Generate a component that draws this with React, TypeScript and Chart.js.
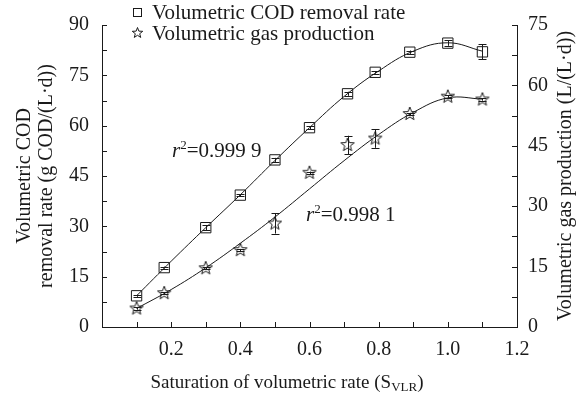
import React, { useEffect, useRef } from 'react';
import { Chart, registerables } from 'chart.js';
Chart.register(...registerables);

// ---- data ----
const xValues = [0.1, 0.18, 0.3, 0.4, 0.5, 0.6, 0.71, 0.79, 0.89, 1.0, 1.1];
const codRate = [9.3, 17.7, 29.6, 39.3, 49.8, 59.4, 69.5, 75.9, 81.9, 84.6, 82.0];
const codErr = [0.3, 0.3, 0.7, 0.3, 0.6, 0.5, 0.6, 0.4, 0.5, 0.8, 2.2];
const gasRate = [4.6, 8.4, 14.6, 19.1, 25.7, 38.3, 45.2, 46.8, 52.9, 57.2, 56.5];
const gasErr = [0.3, 0.3, 0.3, 0.3, 2.5, 0.3, 2.3, 2.3, 0.3, 0.3, 0.3];

const fitX = [0.1, 0.2, 0.3, 0.4, 0.5, 0.6, 0.7, 0.8, 0.9, 1.0, 1.1];
const codFit = [9.3, 19.6, 29.6, 39.4, 49.6, 59.4, 68.7, 76.3, 82.2, 84.7, 82.2];
const gasFit = [4.6, 9.3, 14.7, 20.8, 27.3, 34.3, 41.3, 47.8, 53.3, 56.9, 56.6];

const xTickLabels = ['0.2', '0.4', '0.6', '0.8', '1.0', '1.2'];
const legendLabels = ['Volumetric COD removal rate', 'Volumetric gas production'];
const fitLabels = ['0.999 9', '0.998 1'];

const FONT = "'Liberation Serif', 'Times New Roman', serif";
const INK = '#1a1a1a';

function makeStar(size: number) {
  const c = document.createElement('canvas');
  c.width = size;
  c.height = size;
  const ctx = c.getContext('2d')!;
  drawStar(ctx, size / 2, size / 2, size / 2 - 1);
  return c;
}

function drawStar(ctx: CanvasRenderingContext2D, cx: number, cy: number, R: number) {
  const r = R * 0.42;
  ctx.beginPath();
  for (let i = 0; i < 10; i++) {
    const a = -Math.PI / 2 + (i * Math.PI) / 5;
    const rad = i % 2 === 0 ? R : r;
    const px = cx + rad * Math.cos(a);
    const py = cy + rad * Math.sin(a);
    if (i === 0) ctx.moveTo(px, py);
    else ctx.lineTo(px, py);
  }
  ctx.closePath();
  ctx.fillStyle = '#fff';
  ctx.fill();
  ctx.strokeStyle = INK;
  ctx.lineWidth = 1;
  ctx.stroke();
}

function drawR2(ctx: CanvasRenderingContext2D, x: number, y: number, val: string) {
  ctx.textBaseline = 'alphabetic';
  ctx.textAlign = 'left';
  ctx.font = `italic 21px ${FONT}`;
  ctx.fillText('r', x, y);
  let w = ctx.measureText('r').width;
  ctx.font = `13px ${FONT}`;
  ctx.fillText('2', x + w, y - 8);
  w += ctx.measureText('2').width;
  ctx.font = `21px ${FONT}`;
  ctx.fillText('=' + val, x + w, y);
}

const customPlugin = {
  id: 'custom',
  afterDatasetsDraw(chart: any) {
    const ctx: CanvasRenderingContext2D = chart.ctx;
    const xs = chart.scales.x;
    const yl = chart.scales.y;
    const yr = chart.scales.y1;
    ctx.save();
    ctx.strokeStyle = INK;
    ctx.lineWidth = 1;
    const bars = (vals: number[], errs: number[], sc: any) => {
      vals.forEach((v, i) => {
        const px = Math.round(xs.getPixelForValue(xValues[i])) + 0.5;
        const top = sc.getPixelForValue(v + errs[i]);
        const bot = sc.getPixelForValue(v - errs[i]);
        ctx.beginPath();
        ctx.moveTo(px, top);
        ctx.lineTo(px, bot);
        ctx.moveTo(px - 4, Math.round(top) + 0.5);
        ctx.lineTo(px + 4, Math.round(top) + 0.5);
        ctx.moveTo(px - 4, Math.round(bot) + 0.5);
        ctx.lineTo(px + 4, Math.round(bot) + 0.5);
        ctx.stroke();
      });
    };
    bars(codRate, codErr, yl);
    bars(gasRate, gasErr, yr);
    ctx.restore();
  },
  afterDraw(chart: any) {
    const ctx: CanvasRenderingContext2D = chart.ctx;
    const xs = chart.scales.x;
    const yl = chart.scales.y;
    const yr = chart.scales.y1;
    const ca = chart.chartArea;
    ctx.save();
    ctx.strokeStyle = INK;
    ctx.lineWidth = 1;
    const TL = 5;
    for (let v = 0.1; v < 1.2 - 1e-6; v += 0.1) {
      const px = Math.round(xs.getPixelForValue(v)) + 0.5;
      ctx.beginPath();
      ctx.moveTo(px, ca.bottom);
      ctx.lineTo(px, ca.bottom - TL);
      ctx.stroke();
    }
    for (let v = 7.5; v <= 90 + 1e-6; v += 7.5) {
      const py = Math.round(yl.getPixelForValue(v)) + 0.5;
      ctx.beginPath();
      ctx.moveTo(ca.left, py);
      ctx.lineTo(ca.left + TL, py);
      ctx.stroke();
    }
    for (let v = 7.5; v <= 75 + 1e-6; v += 7.5) {
      const py = Math.round(yr.getPixelForValue(v)) + 0.5;
      ctx.beginPath();
      ctx.moveTo(ca.right, py);
      ctx.lineTo(ca.right - TL, py);
      ctx.stroke();
    }

    // legend
    ctx.font = `21px ${FONT}`;
    ctx.textBaseline = 'middle';
    ctx.textAlign = 'left';
    ctx.fillStyle = '#fff';
    ctx.fillRect(133.5, 8.5, 8, 8);
    ctx.strokeRect(133.5, 8.5, 8, 8);
    drawStar(ctx, 137.5, 33, 5.5);
    ctx.fillStyle = INK;
    ctx.fillText(legendLabels[0], 152, 13);
    ctx.fillText(legendLabels[1], 152, 34);

    drawR2(ctx, 172, 157, fitLabels[0]);
    drawR2(ctx, 306, 221, fitLabels[1]);

    // left title (two lines, rotated)
    ctx.font = `20px ${FONT}`;
    ctx.textAlign = 'center';
    ctx.textBaseline = 'middle';
    ctx.save();
    ctx.translate(25, 176);
    ctx.rotate(-Math.PI / 2);
    ctx.fillText('Volumetric COD', 0, 0);
    ctx.restore();
    ctx.save();
    ctx.translate(47, 176);
    ctx.rotate(-Math.PI / 2);
    ctx.fillText('removal rate (g COD/(L\u00B7d))', 0, 0);
    ctx.restore();
    ctx.save();
    ctx.translate(566, 176);
    ctx.rotate(-Math.PI / 2);
    ctx.fillText('Volumetric gas production (L/(L\u00B7d))', 0, 0);
    ctx.restore();

    // x title with subscript
    const main = 'Saturation of volumetric rate (S';
    const sub = 'VLR';
    const end = ')';
    ctx.font = `19px ${FONT}`;
    const w1 = ctx.measureText(main).width;
    const w3 = ctx.measureText(end).width;
    ctx.font = `13px ${FONT}`;
    const w2 = ctx.measureText(sub).width;
    const total = w1 + w2 + w3;
    let sx = 287 - total / 2;
    const by = 388;
    ctx.textAlign = 'left';
    ctx.textBaseline = 'alphabetic';
    ctx.font = `19px ${FONT}`;
    ctx.fillText(main, sx, by);
    sx += w1;
    ctx.font = `13px ${FONT}`;
    ctx.fillText(sub, sx, by + 3);
    sx += w2;
    ctx.font = `19px ${FONT}`;
    ctx.fillText(end, sx, by);
    ctx.restore();
  },
};

export default function App() {
  const ref = useRef<HTMLCanvasElement>(null);
  useEffect(() => {
    if (!ref.current) return;
    const star = makeStar(16);
    const chart = new Chart(ref.current, {
      type: 'scatter',
      data: {
        datasets: [
          {
            label: 'COD fit',
            data: fitX.map((x, i) => ({ x, y: codFit[i] })),
            showLine: true,
            borderColor: INK,
            borderWidth: 1,
            pointRadius: 0,
            tension: 0.4,
            yAxisID: 'y',
          },
          {
            label: 'Gas fit',
            data: fitX.map((x, i) => ({ x, y: gasFit[i] })),
            showLine: true,
            borderColor: INK,
            borderWidth: 1,
            pointRadius: 0,
            tension: 0.4,
            yAxisID: 'y1',
          },
          {
            label: legendLabels[0],
            data: xValues.map((x, i) => ({ x, y: codRate[i] })),
            pointStyle: 'rect',
            pointRadius: 7.3,
            backgroundColor: '#fff',
            borderColor: INK,
            borderWidth: 1,
            yAxisID: 'y',
          },
          {
            label: legendLabels[1],
            data: xValues.map((x, i) => ({ x, y: gasRate[i] })),
            pointStyle: star as any,
            pointRadius: 8,
            yAxisID: 'y1',
          },
        ],
      },
      options: {
        animation: false,
        responsive: false,
        maintainAspectRatio: false,
        layout: { padding: { top: 25, left: 0, right: 0, bottom: 0 } },
        plugins: { legend: { display: false }, tooltip: { enabled: false } },
        scales: {
          x: {
            type: 'linear',
            min: 0,
            max: 1.2,
            grid: { display: false, drawTicks: false },
            border: { display: true, color: INK, width: 1 },
            ticks: {
              stepSize: 0.2,
              padding: 11,
              color: INK,
              font: { family: FONT, size: 20 },
              callback: (v: any) => {
                const idx = Math.round(Number(v) / 0.2) - 1;
                return idx >= 0 ? xTickLabels[idx] : '';
              },
            },
            afterFit: (s: any) => {
              s.height = 70;
            },
          },
          y: {
            position: 'left',
            min: 0,
            max: 90,
            grid: { display: false, drawTicks: false },
            border: { display: true, color: INK, width: 1 },
            ticks: { stepSize: 15, padding: 13, color: INK, font: { family: FONT, size: 20 } },
            afterFit: (s: any) => {
              s.width = 102;
            },
          },
          y1: {
            position: 'right',
            min: 0,
            max: 75,
            grid: { display: false, drawTicks: false },
            border: { display: true, color: INK, width: 1 },
            ticks: { stepSize: 15, padding: 11, color: INK, font: { family: FONT, size: 20 } },
            afterFit: (s: any) => {
              s.width = 66;
            },
          },
        },
      },
      plugins: [customPlugin],
    });
    return () => chart.destroy();
  }, []);
  return (
    <div style={{ position: 'absolute', left: 0, top: 0, width: 583, height: 397, background: '#fff' }}>
      <canvas ref={ref} width={583} height={397} style={{ display: 'block' }} />
    </div>
  );
}
